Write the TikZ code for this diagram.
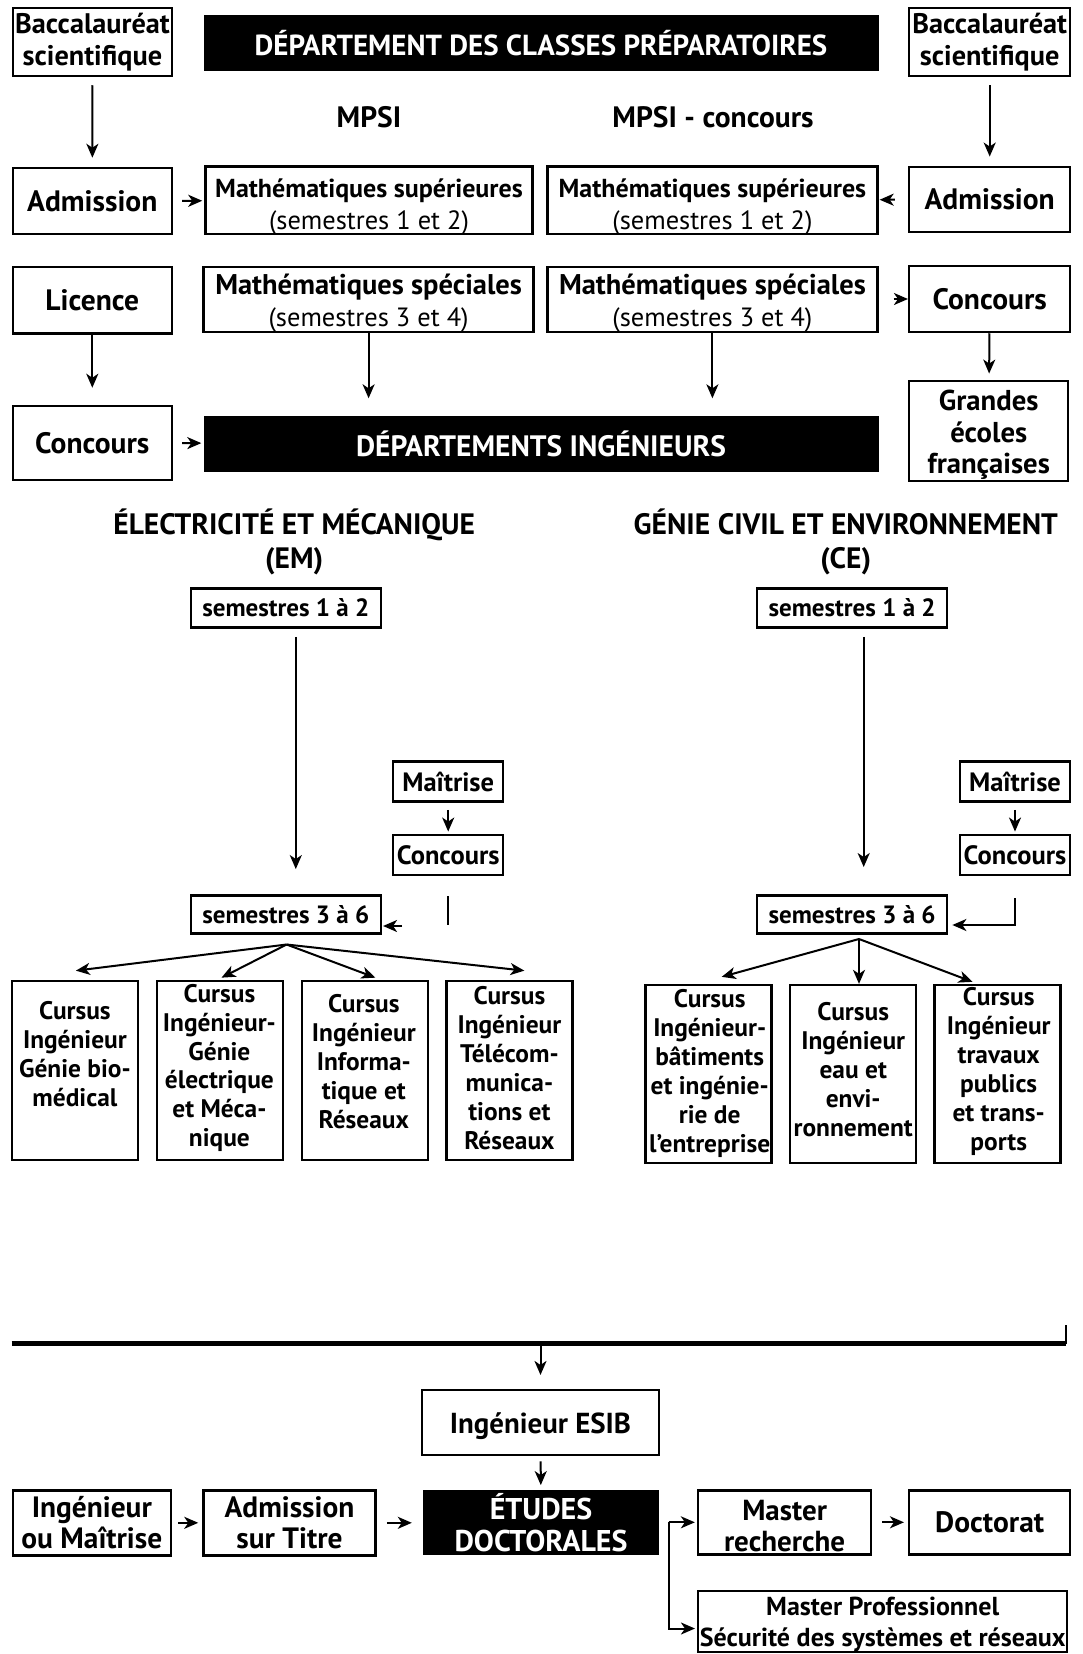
\documentclass[tikz,border=0pt]{standalone}
\usepackage{fontspec}
\setmainfont{PT Sans}
\usetikzlibrary{arrows.meta}
\newcommand\fsz[2]{\fontsize{#1}{#2}\selectfont}
\begin{document}
\begin{tikzpicture}[x=1pt,y=-1pt,
  box/.style={draw, line width=2.5pt, align=center, inner sep=0pt, font=\bfseries\fsz{29.5}{32}},
  bbar/.style={fill=black, text=white, align=center, inner sep=0pt, font=\bfseries\fsz{29}{31.6}},
  lbl/.style={align=center, inner sep=0pt, font=\bfseries\fsz{29.5}{33.7}},
  smallbox/.style={box, font=\bfseries\fsz{26.5}{28}, minimum width=110pt, minimum height=40pt},
  sembox/.style={box, font=\bfseries\fsz{25}{28}, minimum width=190pt, minimum height=39pt},
  curbox/.style={box, minimum width=126pt, minimum height=179pt},
  curtxt/.style={align=center, inner sep=0pt, font=\bfseries\fsz{25.4}{28.9}},
  mtxt/.style={align=center, inner sep=0pt, font=\bfseries\fsz{26}{31.6}},
  arr/.style={-{Stealth[length=14pt,width=12pt,inset=4pt]}, line width=2pt},
  plain/.style={line width=2pt}
]
\useasboundingbox (0,0) rectangle (1082,1654);

% top row
\node[box, minimum width=159pt, minimum height=68pt, font=\bfseries\fsz{28.3}{32.7}] (bacL) at (92.5,42) {Baccalauréat\\scientifique};
\node[bbar, minimum width=675pt, minimum height=56pt] (hdr) at (541,42.7) {DÉPARTEMENT DES CLASSES PRÉPARATOIRES};
\node[box, minimum width=161pt, minimum height=68pt, font=\bfseries\fsz{28.3}{32.7}] (bacR) at (989.7,42) {Baccalauréat\\scientifique};
\node[lbl] (mpsi) at (369,117) {MPSI};
\node[lbl] (mpsic) at (713,117) {MPSI - concours};

\node[box, minimum width=159pt, minimum height=66pt] (admL) at (92.3,201) {Admission};
\node[box, minimum width=327pt, minimum height=67.5pt] (ms1) at (369,200.4) {};
\node[mtxt] (ms1t) at (369,207) {Mathématiques supérieures\\{\mdseries\fsz{26.4}{31.6}(semestres 1 et 2)}};
\node[box, minimum width=330pt, minimum height=67.5pt] (ms2) at (712.4,200.4) {};
\node[mtxt] (ms2t) at (712.4,207) {Mathématiques supérieures\\{\mdseries\fsz{26.4}{31.6}(semestres 1 et 2)}};
\node[box, minimum width=161pt, minimum height=65pt] (admR) at (989.7,199.3) {Admission};

\node[box, minimum width=159pt, minimum height=66.5pt] (lic) at (92.3,300) {Licence};
\node[box, minimum width=330pt, minimum height=65.4pt] (mp1) at (368.6,299.5) {};
\node[mtxt, font=\bfseries\fsz{28.5}{31.6}] (mp1t) at (368.6,303) {Mathématiques spéciales\\{\mdseries\fsz{26.4}{31.6}(semestres 3 et 4)}};
\node[box, minimum width=330pt, minimum height=65.4pt] (mp2) at (712.4,299.5) {};
\node[mtxt, font=\bfseries\fsz{28.5}{31.6}] (mp2t) at (712.4,303) {Mathématiques spéciales\\{\mdseries\fsz{26.4}{31.6}(semestres 3 et 4)}};
\node[box, minimum width=161pt, minimum height=66pt] (concR) at (989.7,299) {Concours};

\node[box, minimum width=159pt, minimum height=74pt] (concL) at (92.3,443) {Concours};
\node[bbar, minimum width=675pt, minimum height=56pt, font=\bfseries\fsz{29.5}{31.6}] (dept) at (541,443.5) {DÉPARTEMENTS INGÉNIEURS};
\node[box, minimum width=159pt, minimum height=100pt, font=\bfseries\fsz{28.7}{31.6}] (grandes) at (988.7,430.8) {};
\node[align=center, inner sep=0pt, font=\bfseries\fsz{28.7}{31.6}] (grandest) at (988.7,435) {Grandes\\écoles\\françaises};

\draw[arr, shorten <=8pt, shorten >=9pt] (bacL) -- (admL);
\draw[arr, shorten <=8pt, shorten >=9pt] (bacR) -- (admR);
\draw[arr, shorten <=9pt, shorten >=2pt] (admL) -- (ms1);
\draw[arr, shorten <=13pt, shorten >=1pt] (admR) -- (ms2);
\draw[arr, shorten <=15pt, shorten >=0pt] (mp2.east |- concR.west) -- (concR.west);
\draw[arr, shorten >=17pt] (lic) -- (concL);
\draw[arr, shorten >=17pt] (mp1.south) -- (mp1.south |- dept.north);
\draw[arr, shorten >=17pt] (mp2.south) -- (mp2.south |- dept.north);
\draw[arr, shorten >=6pt] (concR) -- (grandes);
\draw[arr, shorten <=9pt, shorten >=2pt] (concL) -- (dept);

% departments
\node[lbl] (emt) at (294.2,542) {ÉLECTRICITÉ ET MÉCANIQUE\\(EM)};
\node[lbl] (cet) at (845.8,542) {GÉNIE CIVIL ET ENVIRONNEMENT\\(CE)};

\node[sembox] (s12em) at (285.8,608) {semestres 1 à 2};
\node[sembox] (s12ce) at (852.1,608) {semestres 1 à 2};
\node[smallbox] (maitem) at (448.2,781.5) {Maîtrise};
\node[smallbox] (concem) at (448.2,854.8) {Concours};
\node[smallbox] (maitce) at (1015,781.5) {Maîtrise};
\node[smallbox] (concce) at (1015,854.8) {Concours};
\node[sembox, minimum height=38pt] (s36em) at (285.8,914.3) {semestres 3 à 6};
\node[sembox, minimum height=38pt] (s36ce) at (852.1,914.3) {semestres 3 à 6};

\draw[arr, shorten <=8pt, shorten >=25pt] ([xshift=10pt]s12em.south) -- ([xshift=10pt]s36em.north);
\draw[arr, shorten <=8pt, shorten >=27pt] ([xshift=11.6pt]s12ce.south) -- ([xshift=11.6pt]s36ce.north);
\draw[arr, shorten <=7pt, shorten >=2pt] (maitem) -- (concem);
\draw[arr, shorten <=7pt, shorten >=2pt] (maitce) -- (concce);
\coordinate (emstub) at (448.2,896);
\draw[plain] (emstub) -- ++(0,29);
\coordinate (emarr) at (402,926);
\draw[arr, shorten >=1pt] (emarr) -- (emarr -| s36em.east);
\draw[arr, shorten >=4pt] ([yshift=-22pt]concce.south) |- (s36ce.east |- 0,925);

% cursus boxes EM
\node[curbox] (c1) at (74.9,1070.4) {};
\node[curbox] (c2) at (219.9,1070.4) {};
\node[curbox] (c3) at (364.9,1070.4) {};
\node[curbox] (c4) at (509.4,1070.4) {};
\node[curtxt] (c1t) at (74.9,1054) {Cursus\\Ingénieur\\Génie bio-\\médical};
\node[curtxt] (c2t) at (219.4,1068) {Cursus\\Ingénieur-\\Génie\\électrique\\et Méca-\\nique};
\node[curtxt] (c3t) at (363.8,1061.5) {Cursus\\Ingénieur\\Informa-\\tique et\\Réseaux};
\node[curtxt] (c4t) at (509.4,1068) {Cursus\\Ingénieur\\Télécom-\\munica-\\tions et\\Réseaux};

\coordinate (fanem) at (286.6,944.5);
\draw[arr] (fanem) -- ([xshift=1pt,yshift=9pt]c1.north);
\draw[arr] (fanem) -- ([xshift=1.6pt,yshift=2pt]c2.north);
\draw[arr] (fanem) -- ([xshift=10.5pt,yshift=2pt]c3.north);
\draw[arr] (fanem) -- ([xshift=15pt,yshift=9pt]c4.north);

% cursus boxes CE
\node[curbox, minimum height=178pt] (e1) at (708.7,1074.1) {};
\node[curbox, minimum height=178pt] (e2) at (853.2,1074.1) {};
\node[curbox, minimum height=178pt] (e3) at (997.6,1074.1) {};
\node[curtxt] (e1t) at (709.7,1073.5) {Cursus\\Ingénieur-\\bâtiments\\et ingénie-\\rie de\\l’entreprise};
\node[curtxt] (e2t) at (853.2,1069.3) {Cursus\\Ingénieur\\eau et\\envi-\\ronnement};
\node[curtxt] (e3t) at (998.7,1071.5) {Cursus\\Ingénieur\\travaux\\publics\\et trans-\\ports};

\coordinate (fance) at (859,939);
\draw[arr] (fance) -- ([xshift=13pt,yshift=7pt]e1.north);
\draw[arr] (fance) -- (fance |- e2.north);
\draw[arr] (fance) -- ([xshift=-25pt,yshift=2pt]e3.north);

% bottom
\coordinate (barL) at (11.6,1343.6);
\coordinate (barR) at (1066,1343.6);
\draw[line width=4.5pt] (barL) -- (barR);
\draw[line width=1.5pt] (barR) -- ++(0,-19);

\node[box, minimum width=237pt, minimum height=65pt, font=\bfseries\fsz{28.9}{32}, text depth=0pt] (esib) at (540.5,1422.7) {Ingénieur ESIB};
\node[bbar, minimum width=236pt, minimum height=65pt, font=\bfseries\fsz{30}{31.6}] (etudes) at (541,1522.8) {ÉTUDES\\DOCTORALES};
\node[box, minimum width=158pt, minimum height=65pt, font=\bfseries\fsz{29.4}{31}] (ingm) at (91.8,1522.8) {Ingénieur\\ou Maîtrise};
\node[box, minimum width=172pt, minimum height=65pt, font=\bfseries\fsz{29.4}{31}] (adt) at (289.5,1522.8) {Admission\\sur Titre};
\node[box, minimum width=173pt, minimum height=64pt] (mr) at (784.6,1522.3) {};
\node[align=center, inner sep=0pt, font=\bfseries\fsz{29}{31}] (mrt) at (784.6,1526) {Master\\recherche};
\node[box, minimum width=161pt, minimum height=64pt] (doct) at (989.7,1522.3) {Doctorat};
\node[box, minimum width=369pt, minimum height=61pt] (mpro) at (882.7,1621.5) {};
\node[align=center, inner sep=0pt, font=\bfseries\fsz{26}{30.5}] (mprot) at (882.7,1624.5) {Master Professionnel\\Sécurité des systèmes et réseaux};

\draw[arr, shorten <=2pt, shorten >=14pt] (esib.north |- barL) -- (esib.north);
\draw[arr, shorten <=5pt, shorten >=5pt] (esib) -- (etudes);
\draw[arr, shorten <=6pt, shorten >=4pt] (ingm) -- (adt);
\draw[arr, shorten <=10pt, shorten >=11pt] (adt) -- (etudes);
\draw[arr, shorten <=10pt, shorten >=4pt] (mr) -- (doct);
\coordinate (br) at (668.6,1522.3);
\draw[arr, shorten >=2pt] (br) -- (mr.west);
\draw[arr, shorten >=2pt] (br) |- ([yshift=-7pt]mpro.west);
\end{tikzpicture}
\end{document}
